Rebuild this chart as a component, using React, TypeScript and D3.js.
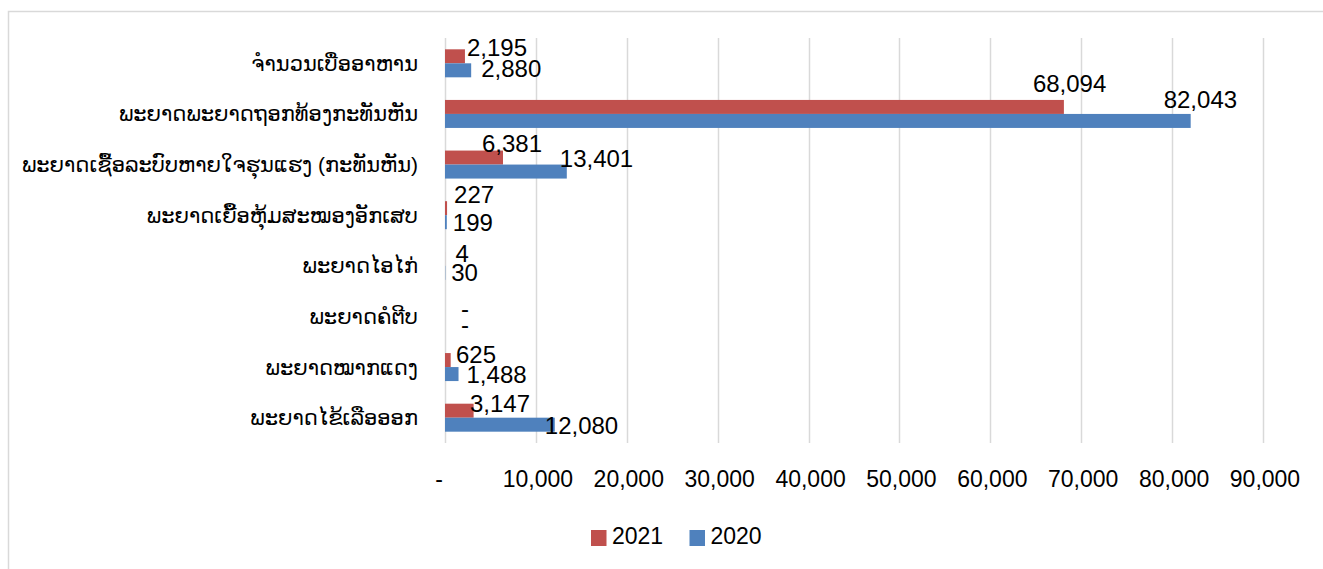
import React from "react";
import * as d3 from "d3";

const categories = [
  "ຈຳນວນເບື່ອອາຫານ",
  "ພະຍາດພະຍາດຖອກທ້ອງກະທັນຫັນ",
  "ພະຍາດເຊື້ອລະບົບຫາຍໃຈຮຸນແຮງ (ກະທັນຫັນ)",
  "ພະຍາດເຍື້ອຫຸ້ມສະໝອງອັກເສບ",
  "ພະຍາດໄອໄກ່",
  "ພະຍາດຄໍຕີບ",
  "ພະຍາດໝາກແດງ",
  "ພະຍາດໄຂ້ເລືອອອກ",
];
const values2021 = [2195, 68094, 6381, 227, 4, 0, 625, 3147];
const values2020 = [2880, 82043, 13401, 199, 30, 0, 1488, 12080];
const seriesNames = ["2021", "2020"];
const tickValues = [0, 10000, 20000, 30000, 40000, 50000, 60000, 70000, 80000, 90000];

// manual label nudges (layout only) [dx, dy]
const nudge2021: [number, number][] = [[-4, -9], [-37, -23.5], [-27, -14.4], [1, -13.7], [4.5, -5.6], [10, -1.3], [-0.7, -6], [-9.6, -7.4]];
const nudge2020: [number, number][] = [[4, -1.5], [-33, -21.5], [-13, -13], [0, 0], [0, 0], [10, 0.7], [2, 0], [-16, 1]];

const W = 1323;
const H = 569;
const COLORS = ["#C0504D", "#4F81BD"];
const FONT = "'Liberation Sans', Arial, 'DejaVu Sans', sans-serif";

const fmt = (v: number) => (v === 0 ? "-" : d3.format(",")(v));

export default function App() {
  const x = d3.scaleLinear().domain([0, 90000]).range([445, 1263]);
  const y = d3.scaleBand<string>().domain(categories).range([38, 443]).padding(0);
  const barH = 14;
  const series = [values2021, values2020];
  const nudges = [nudge2021, nudge2020];

  return (
    <svg width={W} height={H} style={{ position: "absolute", left: 0, top: 0, background: "#fff" }} fontFamily={FONT}>
      <rect x={8.5} y={11.5} width={W + 20} height={H + 20} fill="#fff" stroke="#d9d9d9" strokeWidth={1.5} />
      {tickValues.map((t) => (
        <line key={"g" + t} x1={Math.round(x(t)) + 0.5} x2={Math.round(x(t)) + 0.5} y1={38} y2={443} stroke="#d9d9d9" strokeWidth={1.5} />
      ))}
      {categories.map((c, i) => {
        const cy = (y(c) as number) + y.bandwidth() / 2;
        return (
          <g key={"c" + i}>
            {series.map((vals, s) => {
              const by = cy - barH + s * barH;
              const v = vals[i];
              const end = x(v);
              const [dx, dy] = nudges[s][i];
              return (
                <g key={s}>
                  <rect x={x(0)} y={by} width={Math.max(0, end - x(0))} height={barH} fill={COLORS[s]} />
                  <text x={end + 6 + dx} y={by + barH / 2 + 8.6 + dy} fontSize={24} fill="#000">
                    {fmt(v)}
                  </text>
                </g>
              );
            })}
            <text x={418} y={cy} textAnchor="end" dominantBaseline="central" fontSize={21} fill="#000">
              {c}
            </text>
          </g>
        );
      })}
      {tickValues.map((t) => (
        <text key={"t" + t} x={t === 0 ? x(t) - 6 : x(t) + 2} y={487} textAnchor="middle" fontSize={23} fill="#000">
          {fmt(t)}
        </text>
      ))}
      {seriesNames.map((n, s) => {
        const lx = s === 0 ? 591 : 689.5;
        return (
          <g key={"l" + s}>
            <rect x={lx} y={530} width={15.5} height={16} fill={COLORS[s]} />
            <text x={lx + 21} y={543.5} fontSize={23} fill="#000">
              {n}
            </text>
          </g>
        );
      })}
    </svg>
  );
}
